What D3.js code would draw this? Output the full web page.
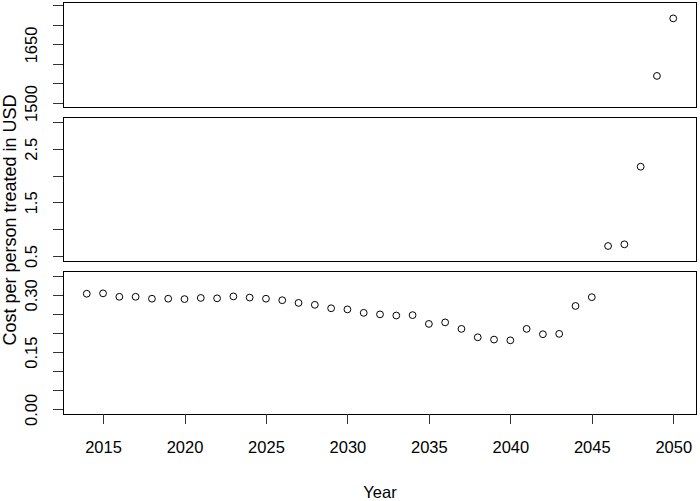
<!DOCTYPE html>
<html lang="en">
<head>
  <meta charset="UTF-8">
  <title>Cost per person treated</title>
  <style>
    body { margin: 0; background: #fff; }
    svg { display: block; font-family: "Liberation Sans", Arial, Helvetica, sans-serif; }
  </style>
</head>
<body>
  <script src="https://d3js.org/d3.v7.min.js"></script>
  <script>
    const width = 700;
    const height = 501;

    // data
    const years = [2014, 2015, 2016, 2017, 2018, 2019, 2020, 2021, 2022, 2023,
                   2024, 2025, 2026, 2027, 2028, 2029, 2030, 2031, 2032, 2033,
                   2034, 2035, 2036, 2037, 2038, 2039, 2040, 2041, 2042, 2043,
                   2044, 2045, 2046, 2047, 2048, 2049, 2050];
    const cost = [0.303, 0.304, 0.295, 0.295, 0.290, 0.290, 0.289, 0.292, 0.291, 0.296,
                  0.293, 0.290, 0.286, 0.279, 0.274, 0.265, 0.262, 0.253, 0.249, 0.246,
                  0.247, 0.224, 0.228, 0.211, 0.189, 0.183, 0.181, 0.211, 0.197, 0.198,
                  0.271, 0.294, 0.687, 0.718, 2.166, 1569.4, 1716.8];

    const xTicks = [2015, 2020, 2025, 2030, 2035, 2040, 2045, 2050];

    const topTicks = [1500, 1550, 1600, 1650, 1700, 1750];
    const topLabels = [1500, 1650];
    const midTicks = [0.5, 1, 1.5, 2, 2.5, 3];
    const midLabels = [0.5, 1.5, 2.5];
    const botTicks = [0, 0.05, 0.1, 0.15, 0.2, 0.25, 0.3, 0.35];
    const botLabels = [0, 0.15, 0.3];

    const left = 63.3, right = 696.7;

    const panels = [
      { y0: 2.7, y1: 107.7, domain: [1488, 1757], ticks: topTicks, labels: topLabels, fmt: d3.format('d') },
      { y0: 117.7, y1: 261.7, domain: [0.394, 3.08], ticks: midTicks, labels: midLabels, fmt: d3.format('.1f') },
      { y0: 271.7, y1: 414.3, domain: [-0.0126, 0.3607], ticks: botTicks, labels: botLabels, fmt: d3.format('.2f') }
    ];

    const x = d3.scaleLinear()
                .domain([2012.56, 2051.44])
                .range([left, right]);

    const svg = d3.select('body')
                  .append('svg')
                  .attr('width', width)
                  .attr('height', height);

    const points = years.map((yr, i) => ({ year: yr, value: cost[i] }));

    panels.forEach(p => {
      const y = d3.scaleLinear().domain(p.domain).range([p.y1, p.y0]);

      const axis = d3.axisLeft(y)
                     .tickValues(p.ticks)
                     .tickSize(10)
                     .tickFormat(d => p.labels.some(l => Math.abs(l - d) < 1e-9) ? p.fmt(d) : '');
      const g = svg.append('g')
                   .attr('transform', 'translate(' + left + ',0)')
                   .call(axis);
      g.select('.domain').remove();
      g.selectAll('.tick line')
       .attr('stroke', '#333')
       .attr('shape-rendering', 'crispEdges');
      g.selectAll('.tick text')
       .attr('x', null)
       .attr('dy', null)
       .attr('text-anchor', 'middle')
       .attr('transform', 'translate(-26.3,0) rotate(-90)')
       .attr('font-size', 16.5)
       .attr('font-family', null)
       .attr('fill', '#000');

      svg.append('rect')
         .attr('x', left)
         .attr('y', p.y0)
         .attr('width', right - left)
         .attr('height', p.y1 - p.y0)
         .attr('fill', 'none')
         .attr('stroke', '#000')
         .attr('stroke-width', 1)
         .attr('shape-rendering', 'crispEdges');

      svg.append('g')
         .selectAll('circle')
         .data(points.filter(d => d.value >= p.domain[0] && d.value <= p.domain[1]))
         .enter()
         .append('circle')
         .attr('cx', d => x(d.year))
         .attr('cy', d => y(d.value))
         .attr('r', 3.4)
         .attr('fill', 'none')
         .attr('stroke', '#000')
         .attr('stroke-width', 1);
    });

    // x axis under the bottom panel
    const xAxis = d3.axisBottom(x)
                    .tickValues(xTicks)
                    .tickSize(10)
                    .tickFormat(d3.format('d'));
    const gx = svg.append('g')
                  .attr('transform', 'translate(0,' + panels[2].y1 + ')')
                  .call(xAxis);
    gx.select('.domain').remove();
    gx.selectAll('.tick line')
      .attr('stroke', '#333')
      .attr('shape-rendering', 'crispEdges');
    gx.selectAll('.tick text')
      .attr('dy', null)
      .attr('y', 39)
      .attr('font-size', 16.5)
      .attr('font-family', null)
      .attr('fill', '#000');

    svg.append('text')
       .attr('x', (left + right) / 2)
       .attr('y', 498)
       .attr('text-anchor', 'middle')
       .attr('font-size', 16.5)
       .text('Year');

    svg.append('text')
       .attr('transform', 'translate(15.5,220) rotate(-90)')
       .attr('text-anchor', 'middle')
       .attr('font-size', 18)
       .text('Cost per person treated in USD');
  </script>
</body>
</html>
